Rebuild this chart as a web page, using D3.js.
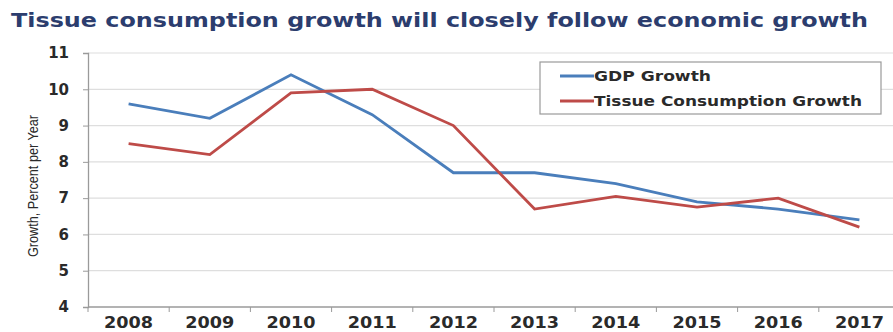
<!DOCTYPE html>
<html>
<head>
<meta charset="utf-8">
<script src="https://cdn.jsdelivr.net/npm/d3@7"></script>
<style>
  html, body { margin: 0; padding: 0; background: #fff; }
  svg { display: block; }
</style>
</head>
<body>
<svg id="chart" width="893" height="332"></svg>
<script>
// Annual growth, percent per year
const years = ["2008", "2009", "2010", "2011", "2012", "2013", "2014", "2015", "2016", "2017"];
const gdpGrowth = [9.6, 9.2, 10.4, 9.3, 7.7, 7.7, 7.4, 6.9, 6.7, 6.4];
const tissueGrowth = [8.5, 8.2, 9.9, 10.0, 9.0, 6.7, 7.05, 6.75, 7.0, 6.2];
const yTicks = [4, 5, 6, 7, 8, 9, 10, 11];
const seriesNames = ["GDP Growth", "Tissue Consumption Growth"];

const svg = d3.select("#chart");
const W = 893;
const plot = { left: 88, right: 900, top: 53, bottom: 307 };

const x = d3.scaleBand().domain(years).range([plot.left, plot.right]).padding(0);
const y = d3.scaleLinear().domain([4, 11]).range([plot.bottom, plot.top]);

// Title, spread across the header
svg.append("text")
  .attr("x", 11).attr("y", 27)
  .attr("font-family", "DejaVu Sans, sans-serif")
  .attr("font-weight", "bold")
  .attr("font-size", 19)
  .attr("fill", "#2c3d6e")
  .attr("textLength", 857)
  .attr("lengthAdjust", "spacingAndGlyphs")
  .text("Tissue consumption growth will closely follow economic growth");

// Gridlines
svg.append("g").selectAll("line").data(yTicks.filter(d => d > 4)).join("line")
  .attr("x1", plot.left).attr("x2", W)
  .attr("y1", d => y(d)).attr("y2", d => y(d))
  .attr("stroke", "#dedede").attr("stroke-width", 1.2);

// Y axis
const yAxis = svg.append("g")
  .attr("transform", `translate(${plot.left},0)`)
  .call(d3.axisLeft(y).tickValues(yTicks).tickSize(5).tickPadding(14).tickFormat(d3.format("d")));
yAxis.select(".domain").attr("stroke", "#9a9a9a").attr("stroke-width", 1.3);
yAxis.selectAll(".tick line").attr("stroke", "#9a9a9a");
yAxis.selectAll(".tick text")
  .attr("font-family", "DejaVu Sans, sans-serif")
  .attr("font-weight", "bold")
  .attr("font-size", 15)
  .attr("fill", "#2a2a2a");

// X axis with ticks at category boundaries
const xAxisG = svg.append("g").attr("transform", `translate(0,${plot.bottom})`);
xAxisG.append("line")
  .attr("x1", plot.left).attr("x2", W)
  .attr("stroke", "#9a9a9a").attr("stroke-width", 1.3);
xAxisG.selectAll("line.bound").data(years).join("line")
  .attr("class", "bound")
  .attr("x1", d => x(d)).attr("x2", d => x(d))
  .attr("y1", 0).attr("y2", 5)
  .attr("stroke", "#9a9a9a");
xAxisG.selectAll("text").data(years).join("text")
  .attr("x", d => x(d) + x.bandwidth() / 2)
  .attr("y", 21)
  .attr("text-anchor", "middle")
  .attr("font-family", "DejaVu Sans, sans-serif")
  .attr("font-weight", "bold")
  .attr("font-size", 15)
  .attr("fill", "#2a2a2a")
  .attr("textLength", 49)
  .attr("lengthAdjust", "spacingAndGlyphs")
  .text(d => d);

// Y axis title
svg.append("text")
  .attr("transform", `translate(38,${(plot.top + plot.bottom) / 2 + 6}) rotate(-90)`)
  .attr("text-anchor", "middle")
  .attr("font-family", "Liberation Sans Narrow, Liberation Sans, sans-serif")
  .attr("font-size", 15)
  .attr("fill", "#2a2a2a")
  .attr("textLength", 142)
  .attr("lengthAdjust", "spacingAndGlyphs")
  .text("Growth, Percent per Year");

// Lines
const line = d3.line()
  .x((d, i) => x(years[i]) + x.bandwidth() / 2)
  .y(d => y(d));
const colors = ["#4a7ebb", "#be4b48"];
[gdpGrowth, tissueGrowth].forEach((vals, k) => {
  svg.append("path")
    .datum(vals)
    .attr("d", line)
    .attr("fill", "none")
    .attr("stroke", colors[k])
    .attr("stroke-width", 2.8)
    .attr("stroke-linejoin", "miter");
});

// Legend
const legendWidths = [117, 268];
const lg = svg.append("g");
lg.append("rect")
  .attr("x", 540).attr("y", 62).attr("width", 341).attr("height", 52)
  .attr("fill", "#fff").attr("stroke", "#9a9a9a").attr("stroke-width", 1.2);
seriesNames.forEach((name, i) => {
  const ly = 76 + i * 25;
  lg.append("line")
    .attr("x1", 560).attr("x2", 594).attr("y1", ly).attr("y2", ly)
    .attr("stroke", colors[i]).attr("stroke-width", 2.8);
  lg.append("text")
    .attr("x", 594).attr("y", ly + 5)
    .attr("font-family", "DejaVu Sans, sans-serif")
    .attr("font-weight", "bold")
    .attr("font-size", 13.5)
    .attr("fill", "#2a2a2a")
    .attr("textLength", legendWidths[i])
    .attr("lengthAdjust", "spacingAndGlyphs")
    .text(name);
});
</script>
</body>
</html>
